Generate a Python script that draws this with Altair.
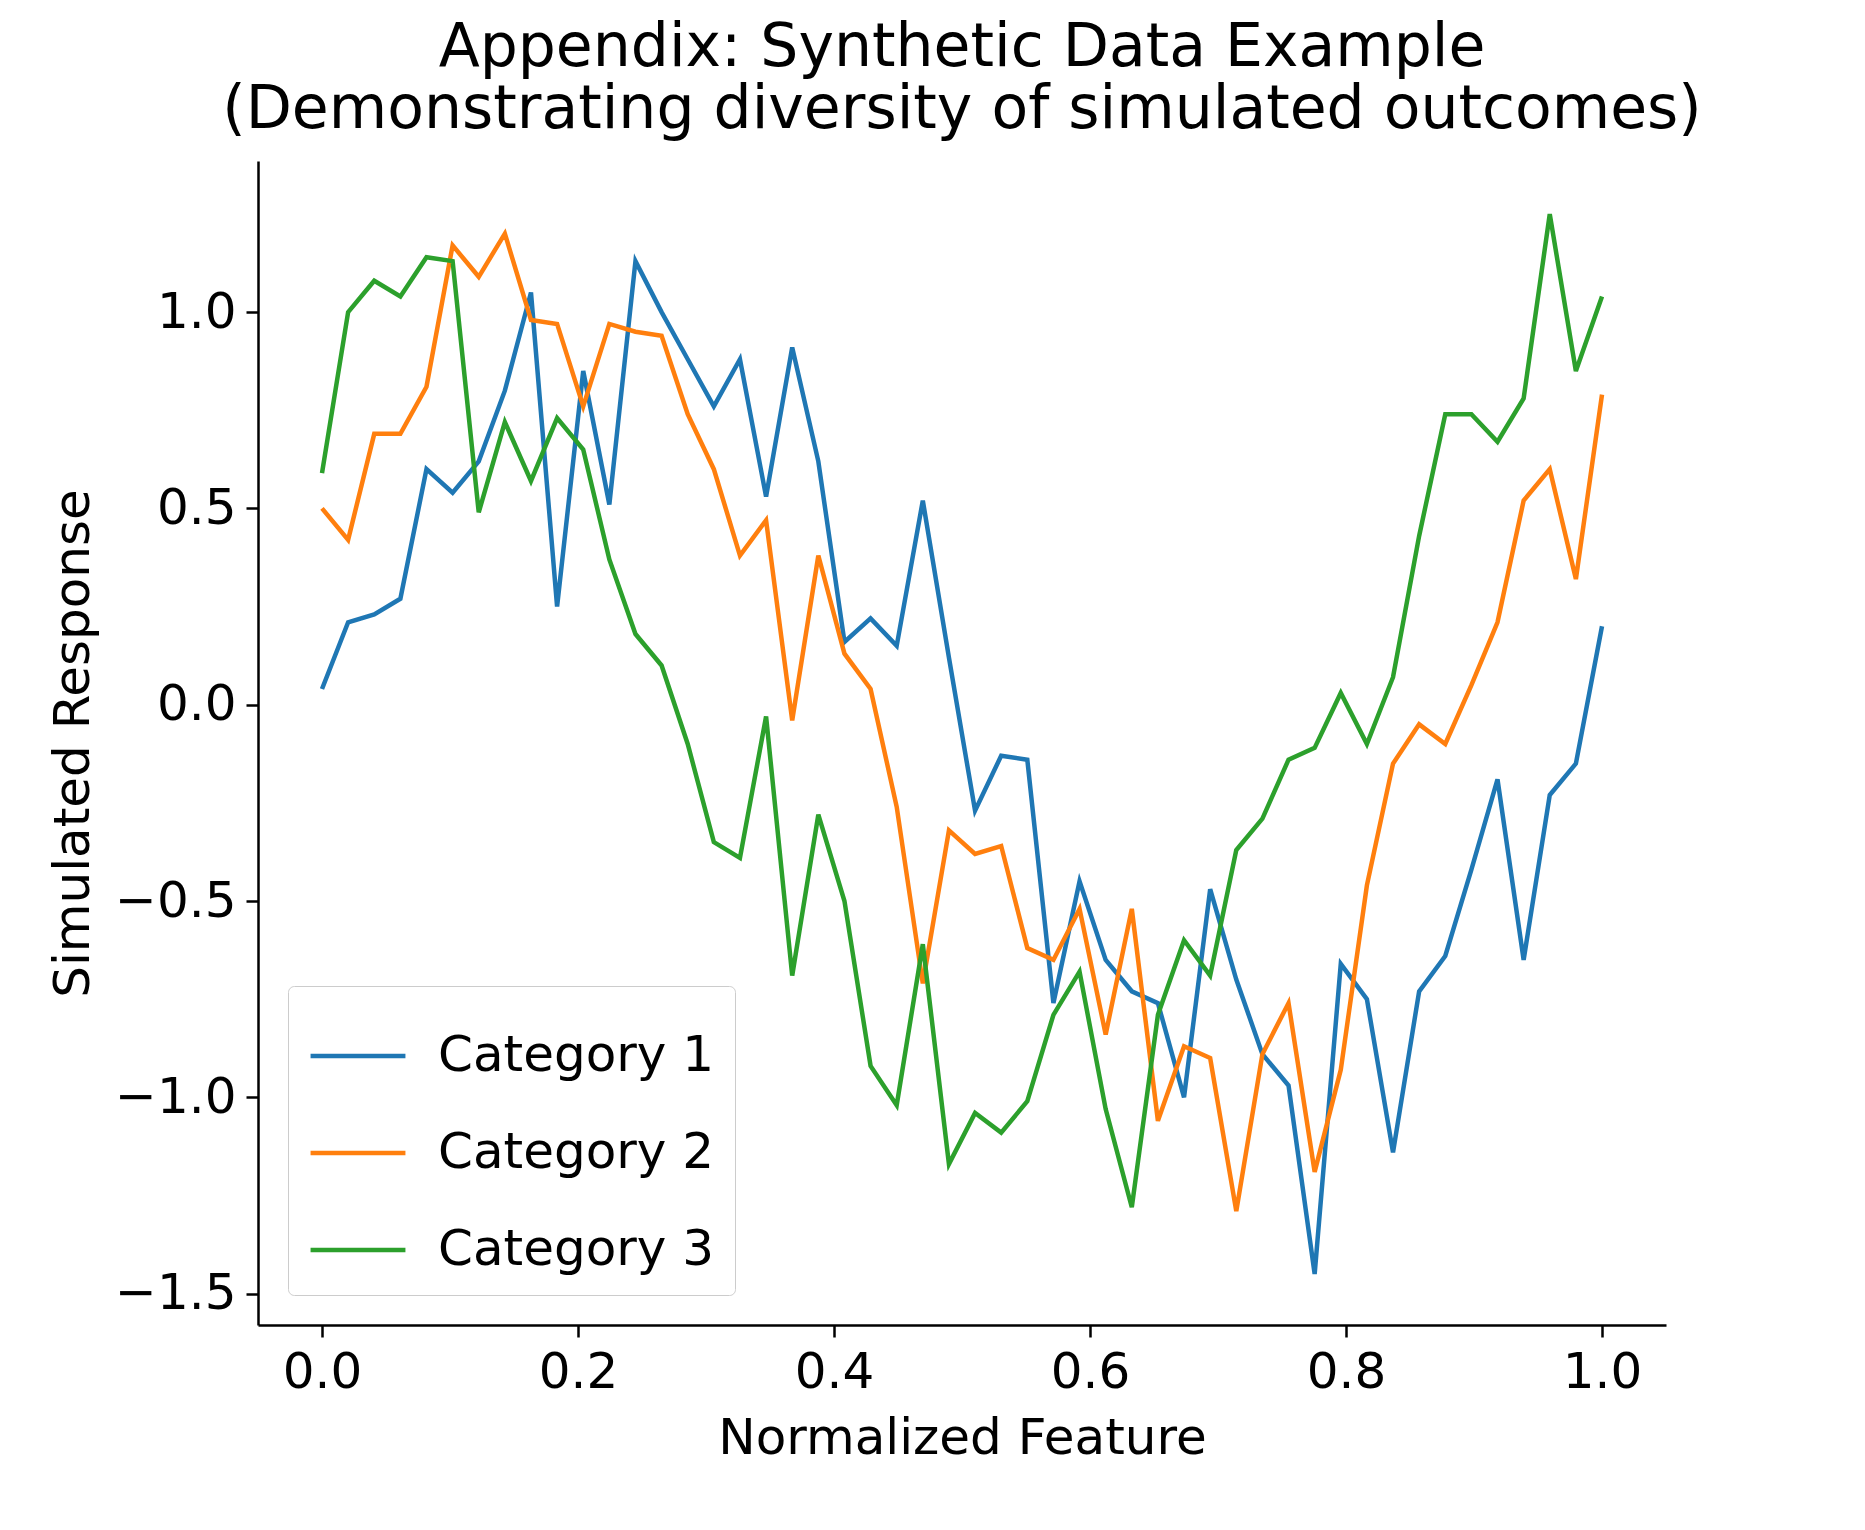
import altair as alt
import pandas as pd

n = 50
xs = [i / 49 for i in range(n)]

cat1 = [0.04, 0.21, 0.23, 0.27, 0.60, 0.54, 0.62, 0.80, 1.05, 0.25,
        0.85, 0.51, 1.13, 1.00, 0.88, 0.76, 0.88, 0.53, 0.91, 0.62,
        0.16, 0.22, 0.15, 0.52, 0.12, -0.27, -0.13, -0.14, -0.76, -0.45,
        -0.65, -0.73, -0.76, -1.00, -0.47, -0.70, -0.89, -0.97, -1.45, -0.66,
        -0.75, -1.14, -0.73, -0.64, -0.42, -0.19, -0.65, -0.23, -0.15, 0.20]
cat2 = [0.50, 0.42, 0.69, 0.69, 0.81, 1.17, 1.09, 1.20, 0.98, 0.97,
        0.76, 0.97, 0.95, 0.94, 0.74, 0.60, 0.38, 0.47, -0.04, 0.38,
        0.13, 0.04, -0.26, -0.71, -0.32, -0.38, -0.36, -0.62, -0.65, -0.52,
        -0.84, -0.52, -1.06, -0.87, -0.90, -1.29, -0.89, -0.76, -1.19, -0.93,
        -0.46, -0.15, -0.05, -0.10, 0.05, 0.21, 0.52, 0.60, 0.32, 0.79]
cat3 = [0.59, 1.00, 1.08, 1.04, 1.14, 1.13, 0.49, 0.72, 0.57, 0.73,
        0.65, 0.37, 0.18, 0.10, -0.10, -0.35, -0.39, -0.03, -0.69, -0.28,
        -0.50, -0.92, -1.02, -0.61, -1.17, -1.04, -1.09, -1.01, -0.79, -0.68,
        -1.03, -1.28, -0.79, -0.60, -0.69, -0.37, -0.29, -0.14, -0.11, 0.03,
        -0.10, 0.07, 0.43, 0.74, 0.74, 0.67, 0.78, 1.25, 0.85, 1.04]

names = ["Category 1", "Category 2", "Category 3"]
colors = ["#1f77b4", "#ff7f0e", "#2ca02c"]

rows = []
for name, vals in zip(names, [cat1, cat2, cat3]):
    for x, y in zip(xs, vals):
        rows.append({"x": x, "y": y, "series": name})
df = pd.DataFrame(rows)

font = "DejaVu Sans"

chart = alt.Chart(df).mark_line(strokeWidth=4.5, clip=True).encode(
    x=alt.X("x:Q", title="Normalized Feature",
            scale=alt.Scale(domain=[-0.05, 1.05], nice=False, zero=False),
            axis=alt.Axis(values=[0, 0.2, 0.4, 0.6, 0.8, 1.0], format=".1f")),
    y=alt.Y("y:Q", title="Simulated Response",
            scale=alt.Scale(domain=[-1.58, 1.385], nice=False, zero=False),
            axis=alt.Axis(values=[-1.5, -1.0, -0.5, 0, 0.5, 1.0], format=".1f")),
    color=alt.Color("series:N", title=None,
                    scale=alt.Scale(domain=names, range=colors),
                    legend=alt.Legend(orient="bottom-left", symbolType="stroke",
                                      symbolSize=9000, symbolStrokeWidth=4.5,
                                      labelFontSize=50, labelFont=font,
                                      labelLimit=600, labelOffset=30,
                                      padding=20, rowPadding=22, offset=30,
                                      strokeColor="#cccccc", cornerRadius=6,
                                      fillColor="white")),
).properties(
    width=1408,
    height=1164,
    padding={"left": 40, "top": 10, "right": 10, "bottom": 10},
    title=alt.Title(["Appendix: Synthetic Data Example",
                     "(Demonstrating diversity of simulated outcomes)"],
                    fontSize=60, font=font, fontWeight="normal", offset=20),
).configure_view(stroke=None).configure_axis(
    grid=False, domainColor="black", domainWidth=2.5, tickColor="black",
    tickWidth=2.5, tickSize=12, labelFontSize=50, titleFontSize=50,
    labelFont=font, titleFont=font, titleFontWeight="normal",
    labelColor="black", titleColor="black", labelPadding=10, titlePadding=16,
)

chart.save("out.html", embed_options={"renderer": "svg", "actions": False})
